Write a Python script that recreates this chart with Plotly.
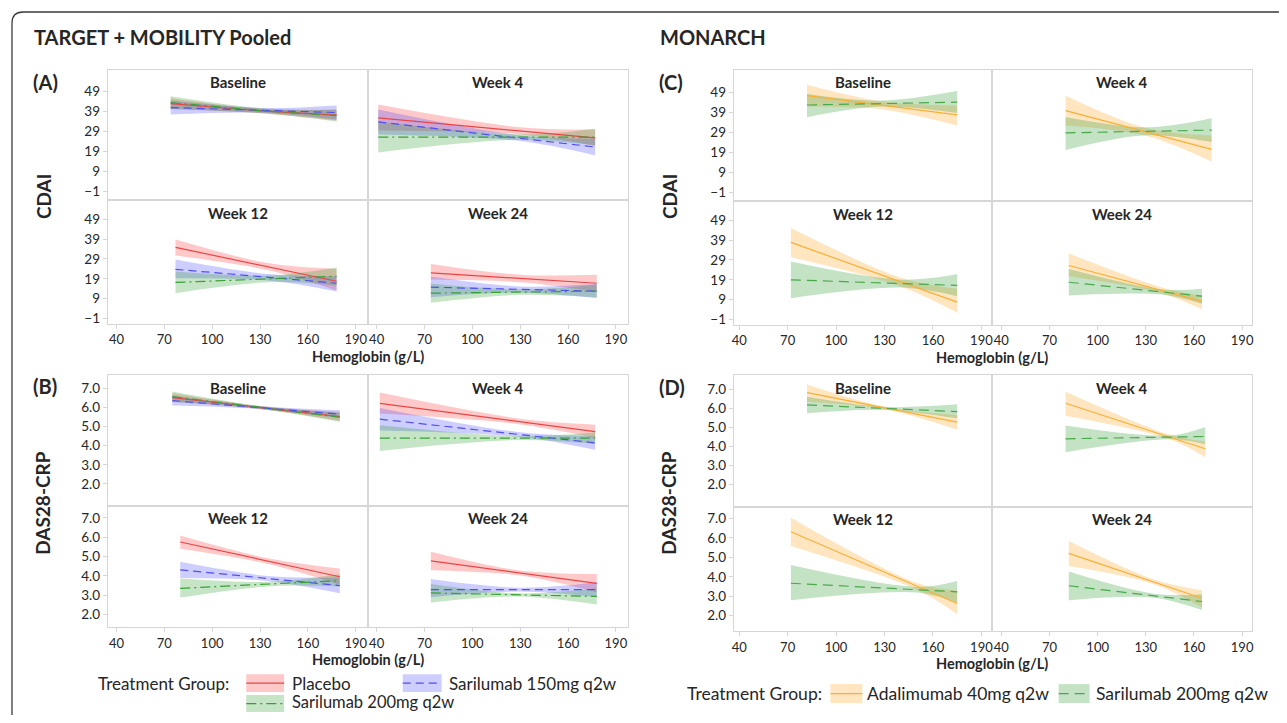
import plotly.graph_objects as go

# viewport is 1287x723; the html body adds an 8px margin, so the figure is 16px smaller
VW, VH = 1287, 723
OFF = 8
W, H = VW - 2 * OFF, VH - 2 * OFF

# ---------------- labels / ticks ----------------
WEEKS = ["Baseline", "Week 4", "Week 12", "Week 24"]
HB_TICKS = [40, 70, 100, 130, 160, 190]
CDAI_TICKS = [-1, 9, 19, 29, 39, 49]
DAS_TICKS = [2.0, 3.0, 4.0, 5.0, 6.0, 7.0]
TM_GROUPS = ["Placebo", "Sarilumab 150mg q2w", "Sarilumab 200mg q2w"]
MON_GROUPS = ["Adalimumab 40mg q2w", "Sarilumab 200mg q2w"]

# ---------------- data (per week: Baseline, Week 4, Week 12, Week 24) ----------------
# each row: hemoglobin [start, pinch, end] and fitted value / CI lower / CI upper there

# (A) CDAI, TARGET + MOBILITY pooled
A_hb = [[74, 131, 178], [41, 130, 177], [77, 135, 178], [74, 130, 178]]
A_pla_fit = [[43.0, 39.3, 37.2], [35.8, 29.3, 25.8], [34.8, 25.1, 17.8], [22.0, 19.2, 16.8]]
A_pla_lo = [[40.3, 38.2, 34.5], [29.5, 27.5, 21.8], [30.7, 23.3, 13.2], [18.7, 17.3, 12.5]]
A_pla_hi = [[45.7, 40.4, 39.9], [42.5, 31.1, 30.0], [38.7, 26.9, 24.0], [26.5, 21.1, 21.0]]
A_s150_fit = [[41.0, 39.6, 38.5], [33.8, 25.6, 21.2], [23.8, 19.8, 16.8], [14.8, 13.7, 12.8]]
A_s150_lo = [[37.5, 38.4, 35.0], [27.5, 24.2, 17.0], [19.3, 18.2, 12.7], [9.8, 12.2, 9.3]]
A_s150_hi = [[44.5, 40.8, 42.0], [40.0, 27.0, 25.5], [28.7, 21.4, 20.3], [20.2, 15.2, 16.5]]
A_s200_fit = [[43.5, 39.4, 37.0], [26.2, 26.2, 26.2], [17.2, 19.0, 20.3], [11.8, 12.3, 12.8]]
A_s200_lo = [[40.3, 38.1, 34.0], [18.5, 24.8, 22.0], [11.8, 17.3, 15.7], [7.0, 11.0, 9.8]]
A_s200_hi = [[46.7, 40.7, 40.0], [34.0, 27.6, 30.4], [22.7, 20.7, 24.7], [16.6, 13.6, 16.0]]

# (B) DAS28-CRP, TARGET + MOBILITY pooled
B_hb = [[75, 130, 180], [42, 130, 177], [80, 135, 180], [74, 130, 178]]
B_pla_fit = [[6.52, 6.00, 5.53], [6.22, 5.26, 4.74], [5.75, 4.76, 3.95], [4.77, 4.14, 3.61]]
B_pla_lo = [[6.30, 5.92, 5.30], [5.68, 5.11, 4.40], [5.40, 4.61, 3.54], [4.29, 4.01, 3.15]]
B_pla_hi = [[6.75, 6.08, 5.76], [6.78, 5.41, 5.10], [6.09, 4.91, 4.38], [5.25, 4.27, 4.09]]
B_s150_fit = [[6.36, 5.99, 5.65], [5.39, 4.58, 4.15], [4.31, 3.86, 3.49], [3.28, 3.28, 3.28]]
B_s150_lo = [[6.10, 5.91, 5.45], [4.80, 4.46, 3.79], [3.88, 3.73, 3.09], [2.89, 3.18, 2.89]]
B_s150_hi = [[6.62, 6.07, 5.87], [5.98, 4.70, 4.50], [4.72, 3.99, 3.91], [3.83, 3.38, 3.66]]
B_s200_fit = [[6.57, 6.00, 5.49], [4.40, 4.40, 4.40], [3.35, 3.57, 3.75], [3.11, 3.01, 2.93]]
B_s200_lo = [[6.30, 5.92, 5.25], [3.73, 4.30, 4.10], [2.87, 3.45, 3.45], [2.62, 2.93, 2.51]]
B_s200_hi = [[6.84, 6.08, 5.73], [5.07, 4.50, 4.70], [3.86, 3.69, 4.08], [3.58, 3.09, 3.35]]

# (C) CDAI, MONARCH
C_hb = [[82, 128, 175], [80, 130, 171], [72, 140, 175], [82, 140, 165]]
C_ada_fit = [[47.5, 42.7, 37.8], [40.0, 29.3, 20.5], [37.8, 17.9, 7.8], [26.2, 13.7, 8.2]]
C_ada_lo = [[42.0, 40.7, 32.5], [32.5, 27.3, 14.3], [30.3, 15.7, 2.5], [20.8, 12.2, 4.2]]
C_ada_hi = [[53.0, 44.7, 42.5], [47.5, 31.3, 27.5], [45.0, 20.1, 14.5], [32.3, 15.2, 11.2]]
C_s200_fit = [[42.8, 43.5, 44.2], [28.8, 29.6, 30.2], [19.0, 17.1, 16.2], [17.8, 12.9, 10.8]]
C_s200_lo = [[36.7, 42.0, 38.8], [20.2, 27.6, 24.2], [9.8, 15.1, 10.8], [11.2, 11.6, 7.0]]
C_s200_hi = [[48.3, 45.0, 49.8], [36.8, 31.6, 36.2], [28.2, 19.1, 21.8], [24.5, 14.2, 14.5]]

# (D) DAS28-CRP, MONARCH
D_hb = [[82, 130, 175], [80, 145, 167], [72, 150, 175], [82, 135, 165]]
D_ada_fit = [[6.81, 6.01, 5.27], [6.26, 4.49, 3.88], [6.32, 3.51, 2.63], [5.21, 3.74, 2.90]]
D_ada_lo = [[6.34, 5.94, 4.87], [5.61, 4.37, 3.43], [5.59, 3.34, 2.08], [4.56, 3.62, 2.43]]
D_ada_hi = [[7.24, 6.08, 5.65], [6.86, 4.61, 4.26], [7.04, 3.68, 3.28], [5.84, 3.86, 3.31]]
D_s200_fit = [[6.17, 5.99, 5.82], [4.40, 4.47, 4.52], [3.67, 3.34, 3.23], [3.54, 3.03, 2.73]]
D_s200_lo = [[5.73, 5.91, 5.47], [3.70, 4.37, 4.12], [2.80, 3.19, 2.68], [2.80, 2.93, 2.29]]
D_s200_hi = [[6.60, 6.07, 6.20], [5.09, 4.57, 5.02], [4.61, 3.49, 3.79], [4.27, 3.13, 3.11]]

# ---------------- styles ----------------
ST_PLA = dict(color="rgb(232,70,70)", fill="rgba(255,60,60,0.28)", dash="solid")
ST_S150 = dict(color="rgb(80,80,235)", fill="rgba(70,70,255,0.27)", dash="8px,5px")
ST_S200_TM = dict(color="rgb(55,160,55)", fill="rgba(45,155,45,0.27)", dash="10px,4px,2px,4px")
ST_ADA = dict(color="rgb(247,176,55)", fill="rgba(255,168,45,0.30)", dash="solid")
ST_S200_MON = dict(color="rgb(75,168,75)", fill="rgba(60,160,60,0.30)", dash="10px,6px")

FONT = "Lato, 'Open Sans', sans-serif"
TXT = "#262626"
FRAME = "#d6d6d6"

panels = [
    dict(hb=A_hb, ticks=CDAI_TICKS, fmt="", cols=[(106, 367), (367, 628)],
         rows=[(70, 201), (201, 325)], yref=[((92, 49), (192, -1)), ((220, 49), (320, -1))],
         xref=[((114.8, 40), (354.8, 190)), ((375.8, 40), (615.8, 190))],
         groups=[(A_pla_fit, A_pla_lo, A_pla_hi, ST_PLA), (A_s150_fit, A_s150_lo, A_s150_hi, ST_S150),
                 (A_s200_fit, A_s200_lo, A_s200_hi, ST_S200_TM)]),
    dict(hb=B_hb, ticks=DAS_TICKS, fmt=".1f", cols=[(106, 367), (367, 628)],
         rows=[(377, 508), (508, 630)], yref=[((390, 7), (486, 2)), ((520, 7), (617, 2))],
         xref=[((114.8, 40), (354.8, 190)), ((375.8, 40), (615.8, 190))],
         groups=[(B_pla_fit, B_pla_lo, B_pla_hi, ST_PLA), (B_s150_fit, B_s150_lo, B_s150_hi, ST_S150),
                 (B_s200_fit, B_s200_lo, B_s200_hi, ST_S200_TM)]),
    dict(hb=C_hb, ticks=CDAI_TICKS, fmt="", cols=[(734, 993), (993, 1254)],
         rows=[(70, 202), (202, 326)], yref=[((93, 49), (193, -1)), ((221, 49), (321, -1))],
         xref=[((739.5, 40), (982.5, 190)), ((1002.5, 40), (1244, 190))],
         groups=[(C_ada_fit, C_ada_lo, C_ada_hi, ST_ADA), (C_s200_fit, C_s200_lo, C_s200_hi, ST_S200_MON)]),
    dict(hb=D_hb, ticks=DAS_TICKS, fmt=".1f", cols=[(734, 993), (993, 1254)],
         rows=[(377, 509), (509, 634)], yref=[((390.7, 7), (486.7, 2)), ((520.7, 7), (618.3, 2))],
         xref=[((739.5, 40), (982.5, 190)), ((1002.5, 40), (1244, 190))],
         groups=[(D_ada_fit, D_ada_lo, D_ada_hi, ST_ADA), (D_s200_fit, D_s200_lo, D_s200_hi, ST_S200_MON)]),
]


def px_to_val(px, ref):
    (p1, v1), (p2, v2) = ref
    return v1 + (px - p1) * (v2 - v1) / (p2 - p1)


def fx(px):
    return (px - OFF) / W


def fy(py):
    return 1 - (py - OFF) / H


fig = go.Figure()
layout = {}
annotations = []
shapes = []
ax = 0
for P in panels:
    for w in range(4):
        r, c = divmod(w, 2)
        ax += 1
        sfx = "" if ax == 1 else str(ax)
        x0, x1 = P["cols"][c]
        y0, y1 = P["rows"][r]
        xr = [px_to_val(x0, P["xref"][c]), px_to_val(x1, P["xref"][c])]
        yr = [px_to_val(y1, P["yref"][r]), px_to_val(y0, P["yref"][r])]
        layout["xaxis" + sfx] = dict(
            domain=[fx(x0), fx(x1)], range=xr, anchor="y" + sfx, tickvals=HB_TICKS,
            showticklabels=(r == 1), ticks="outside" if r == 1 else "", ticklen=4,
            tickcolor=FRAME, showline=True, mirror=True, linecolor=FRAME, linewidth=1,
            showgrid=False, zeroline=False, tickfont=dict(family=FONT, size=13, color=TXT))
        layout["yaxis" + sfx] = dict(
            domain=[fy(y1), fy(y0)], range=yr, anchor="x" + sfx, tickvals=P["ticks"],
            tickformat=P["fmt"], showticklabels=(c == 0), ticks="outside" if c == 0 else "",
            ticklen=4, tickcolor=FRAME, showline=True, mirror=True, linecolor=FRAME,
            linewidth=1, showgrid=False, zeroline=False,
            tickfont=dict(family=FONT, size=13.5, color=TXT))
        xa, ya = "x" + sfx, "y" + sfx
        hb = P["hb"][w]
        # confidence bands
        for fit, lo, hi, st in P["groups"]:
            fig.add_trace(go.Scatter(x=hb, y=lo[w], xaxis=xa, yaxis=ya, mode="lines",
                                     line=dict(width=0, color="rgba(0,0,0,0)", shape="spline"),
                                     showlegend=False, hoverinfo="skip"))
            fig.add_trace(go.Scatter(x=hb, y=hi[w], xaxis=xa, yaxis=ya, mode="lines",
                                     line=dict(width=0, color="rgba(0,0,0,0)", shape="spline"),
                                     fill="tonexty", fillcolor=st["fill"],
                                     showlegend=False, hoverinfo="skip"))
        # fitted lines
        for fit, lo, hi, st in P["groups"]:
            fig.add_trace(go.Scatter(x=hb, y=fit[w], xaxis=xa, yaxis=ya, mode="lines",
                                     line=dict(width=1.2, color=st["color"], dash=st["dash"]),
                                     showlegend=False, hoverinfo="skip"))
        # facet title
        annotations.append(dict(text="<b>%s</b>" % WEEKS[w], xref="paper", yref="paper",
                                x=fx((x0 + x1) / 2), y=fy(y0 + 12.5), showarrow=False,
                                xanchor="center", yanchor="middle",
                                font=dict(family=FONT, size=15, color=TXT)))


def text(t, x, y, size, bold=False, anchor="left", angle=0):
    annotations.append(dict(text=("<b>%s</b>" % t) if bold else t, xref="paper", yref="paper",
                            x=fx(x), y=fy(y), showarrow=False, xanchor=anchor, yanchor="middle",
                            textangle=angle, font=dict(family=FONT, size=size, color=TXT)))


# section titles, panel labels, axis titles
text("TARGET + MOBILITY Pooled", 30, 37, 20, True)
text("MONARCH", 658, 37, 20, True)
text("(A)", 29, 82, 20, True)
text("(B)", 29, 388, 20, True)
text("(C)", 657, 82, 20, True)
text("(D)", 657, 389, 20, True)
text("CDAI", 41, 197, 19, True, "center", -90)
text("DAS28-CRP", 41, 505, 19, True, "center", -90)
text("CDAI", 669, 197, 19, True, "center", -90)
text("DAS28-CRP", 669, 505, 19, True, "center", -90)
text("Hemoglobin (g/L)", 367, 358, 14.5, True, "center")
text("Hemoglobin (g/L)", 367, 662, 14.5, True, "center")
text("Hemoglobin (g/L)", 993, 359, 14.5, True, "center")
text("Hemoglobin (g/L)", 993, 666, 14.5, True, "center")


# legends
def swatch(xa, xb, ya, yb, st):
    shapes.append(dict(type="rect", xref="paper", yref="paper", x0=fx(xa), x1=fx(xb),
                       y0=fy(yb), y1=fy(ya), fillcolor=st["fill"], line=dict(width=0)))
    ym = (ya + yb) / 2
    shapes.append(dict(type="line", xref="paper", yref="paper", x0=fx(xa), x1=fx(xb),
                       y0=fy(ym), y1=fy(ym), line=dict(color=st["color"], width=1.2, dash=st["dash"])))


text("Treatment Group:", 94, 686, 17)
swatch(245, 283, 677, 695, ST_PLA)
text(TM_GROUPS[0], 289, 686, 17)
swatch(402, 441, 677, 695, ST_S150)
text(TM_GROUPS[1], 446, 686, 17)
swatch(245, 283, 698, 715, ST_S200_TM)
text(TM_GROUPS[2], 289, 705, 16.5)

text("Treatment Group:", 685, 696, 17.5)
swatch(831, 863, 687, 706, ST_ADA)
text(MON_GROUPS[0], 866, 696, 17.5)
swatch(1060, 1091, 687, 706, ST_S200_MON)
text(MON_GROUPS[1], 1095, 696, 17.5)

# rounded outer border
bx, by, rad = 10, 12, 11
path = "M %f,%f L %f,%f Q %f,%f %f,%f L %f,%f" % (
    1.05, fy(by), fx(bx + rad), fy(by), fx(bx), fy(by), fx(bx), fy(by + rad), fx(bx), -0.05)
shapes.append(dict(type="path", xref="paper", yref="paper", path=path,
                   line=dict(color="#3a3a3a", width=1.3)))

fig.update_layout(**layout)
fig.update_layout(width=W, height=H, autosize=False, margin=dict(l=0, r=0, t=0, b=0),
                  paper_bgcolor="white", plot_bgcolor="white", showlegend=False,
                  annotations=annotations, shapes=shapes,
                  font=dict(family=FONT, color=TXT))
fig.write_html("out.html")
